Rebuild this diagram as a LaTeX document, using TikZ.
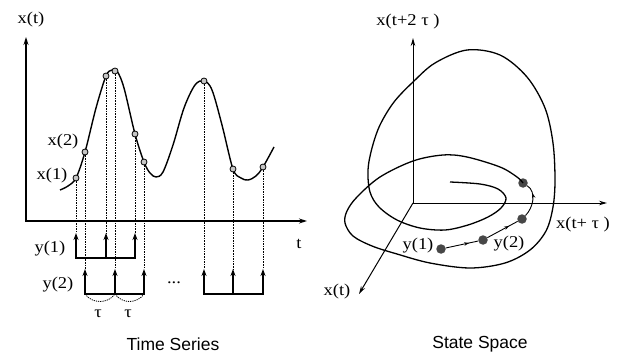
\documentclass[tikz,border=0pt]{standalone}
\usepackage{fontspec}
\setmainfont[FakeStretch=1.12]{Liberation Serif}
\newfontfamily\titlefont{Liberation Sans}
\usetikzlibrary{arrows.meta,decorations.markings}
\begin{document}
\begin{tikzpicture}[x=1pt,y=-1pt,
  lab/.style={font=\fontsize{16.5}{18}\selectfont, inner sep=0pt},
  ttl/.style={font=\titlefont\fontsize{17.5}{19}\selectfont, inner sep=0pt},
  axis/.style={line width=1.2pt, {Stealth[length=8pt,width=5pt]}-{Stealth[length=8pt,width=5pt]}},
  raxis/.style={line width=1pt, -{Stealth[length=8pt,width=4.5pt]}},
  samp/.style={line width=1.5pt, -{Stealth[length=7pt,width=5pt]}},
  bar/.style={line width=1.5pt, line cap=rect},
  guide/.style={line width=0.8pt, dash pattern=on 1.6pt off 1pt},
  tauarc/.style={line width=0.8pt, dash pattern=on 1.2pt off 1pt},
  sdot/.style={circle, draw=black, fill=gray!45, line width=0.8pt, minimum size=6pt, inner sep=0pt},
  bdot/.style={circle, fill=black!72, minimum size=9.5pt, inner sep=0pt},
  curve/.style={line width=1.4pt},
  traj/.style={line width=1.3pt},
  stepline/.style={line width=0.9pt, postaction={decorate},
    decoration={markings, mark=at position 0.72 with {\arrow{Stealth[length=5pt,width=3.5pt]}}}}]
\useasboundingbox (0,0) rectangle (622,353);

% ---------------- Time series ----------------
\coordinate (O1) at (26,221);
\coordinate (Ytop) at (26,37);
\coordinate (Xend) at (307,221);
\draw[axis] (Ytop) -- (O1) -- (Xend);
\node[lab] (xt) at (31,20) {x(t)};
\node[lab] (tl) at (299,244) {t};

\draw[curve] plot[smooth, tension=0.55] coordinates {
 (60,190) (68,186) (76,178) (85,152) (96,108) (106,76) (112,70) (117,71) (124,88)
 (135,134) (144,162) (150,173) (156,177) (163,172) (173,145) (184,108) (195,85)
 (204,81) (212,90) (222,125) (233,169) (241,178) (248,180) (256,176) (263,167) (274,147)};

\node[sdot] (p1) at (76,178) {};
\node[sdot] (p2) at (85,152) {};
\node[sdot] (p3) at (106,76) {};
\node[sdot] (p4) at (115,71) {};
\node[sdot] (p5) at (135,134) {};
\node[sdot] (p6) at (144,162) {};
\node[sdot] (p7) at (204,81) {};
\node[sdot] (p8) at (233,169) {};
\node[sdot] (p9) at (263,167) {};

\node[lab] (x1) at (52,176) {x(1)};
\node[lab] (x2) at (63,142) {x(2)};

% arrow tips and bar feet
\foreach \n/\x in {1/76,3/106,5/135}{
  \coordinate (a\n) at (\x,233);
  \coordinate (b\n) at (\x,258);
}
\foreach \n/\x in {2/85,4/115,6/144,7/204,8/233,9/263}{
  \coordinate (a\n) at (\x,269);
  \coordinate (b\n) at (\x,294);
}

\foreach \n in {1,...,9}{ \draw[guide] (p\n) -- (a\n); }

\draw[bar] (b1) -- (b5);
\draw[bar] (b2) -- (b6);
\draw[bar] (b7) -- (b9);
\foreach \n in {1,...,9}{ \draw[samp] (b\n) -- (a\n); }

\node[lab] (y1l) at (50,249) {y(1)};
\node[lab] (y2l) at (58,285) {y(2)};
\node[lab] (dots) at (174,283) {...};

\draw[tauarc] (b2) .. controls (92,304) and (108,304) .. (b4);
\draw[tauarc] (b4) .. controls (122,304) and (137,304) .. (b6);
\node[lab] (tau1) at (98,314) {τ};
\node[lab] (tau2) at (128,314) {τ};

\node[ttl] (ts) at (173,344) {Time Series};

% ---------------- State space ----------------
\coordinate (O2) at (413,203);
\coordinate (Ztop) at (413,38);
\coordinate (Rend) at (607,203);
\coordinate (Dend) at (359,294);
\draw[raxis] (O2) -- (Ztop);
\draw[raxis] (O2) -- (Rend);
\draw[raxis] (O2) -- (Dend);

\node[lab] (zl) at (408,22) {x(t+2 τ )};
\node[lab] (rl) at (583,225) {x(t+ τ )};
\node[lab] (dl) at (337,292) {x(t)};

\node[bdot] (d1) at (441,249) {};
\node[bdot] (d2) at (483,240) {};
\node[bdot] (d3) at (522,219) {};
\node[bdot] (d4) at (523,183) {};

\draw[traj] plot[smooth, tension=0.55] coordinates {
 (450,182) (480,184) (498,189) (506,198) (501,208) (488,217) (468,225) (445,230)
 (420,228) (397,220) (379,207) (370,192) (368,170) (372,148) (380,125) (394,102)
 (413,82) (435,63) (467,50) (500,55) (527,77) (545,108) (553,143) (555,180)
 (553,207) (546,231) (530,250) (505,263) (470,268) (430,263) (397,254) (372,246)
 (353,236) (345,223) (347,211) (357,197) (380,177) (413,161) (443,155) (467,157)
 (500,167) (517,177) (d4)};

\draw[stepline] (d1) -- (d2);
\draw[stepline] (d2) -- (d3);
\draw[stepline] (d3) .. controls (533,208) and (537,192) .. (d4);

\node[lab] (y1r) at (418,246) {y(1)};
\node[lab] (y2r) at (509,244) {y(2)};

\node[ttl] (ss) at (480,344) {State Space};
\end{tikzpicture}
\end{document}
